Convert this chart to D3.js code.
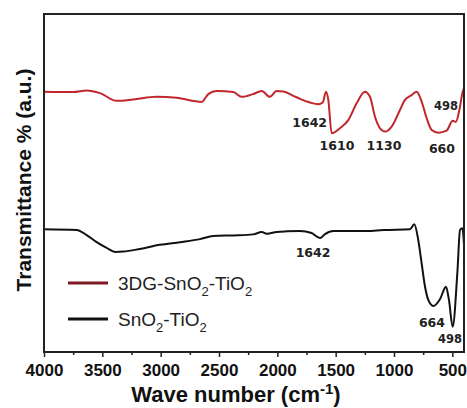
<!DOCTYPE html>
<html>
<head>
<meta charset="utf-8">
<script src="https://cdn.jsdelivr.net/npm/d3@7"></script>
<style>
  body { margin: 0; background: #fff; }
  svg { font-family: "Liberation Sans", Arial, sans-serif; }
</style>
</head>
<body>
<div id="chart"></div>
<script>
// FTIR spectra, wave number (cm-1) vs transmittance (a.u.)
var wnRed = [4000, 3749, 3634, 3520, 3377, 3236, 3034, 2863, 2649, 2592, 2520, 2377, 2306, 2208, 2134, 2063, 2006, 1949, 1863, 1806, 1720, 1649, 1611, 1583, 1563, 1534, 1463, 1392, 1320, 1249, 1206, 1163, 1120, 1077, 1020, 949, 906, 849, 806, 763, 720, 677, 620, 549, 497, 469, 440, 411, 400];
var tRed = [77.0, 76.9, 77.4, 76.6, 74.3, 74.7, 75.5, 75.2, 74.0, 76.3, 77.2, 76.9, 75.5, 76.3, 77.2, 75.5, 77.2, 77.1, 75.8, 74.9, 73.8, 73.3, 73.8, 77.0, 74.6, 64.7, 66.2, 68.6, 73.6, 77.0, 75.5, 69.6, 66.2, 65.2, 66.7, 71.6, 74.6, 76.0, 77.0, 74.1, 69.2, 65.7, 64.9, 65.5, 68.4, 68.1, 71.6, 77.0, 78.1];

var wnBlack = [4000, 3720, 3634, 3549, 3463, 3391, 3320, 3177, 3006, 2834, 2663, 2549, 2377, 2206, 2134, 2091, 2006, 1920, 1806, 1706, 1634, 1591, 1520, 1377, 1234, 1091, 863, 826, 792, 763, 734, 706, 663, 606, 554, 529, 497, 457, 434, 414, 400];
var tBlack = [36.3, 36.1, 34.6, 32.5, 30.8, 29.6, 29.7, 30.5, 31.7, 32.5, 33.4, 34.3, 34.5, 34.8, 35.5, 35.0, 35.5, 35.7, 35.8, 35.2, 33.7, 34.9, 35.8, 35.8, 35.8, 36.1, 36.3, 37.8, 33.1, 26.2, 19.3, 15.4, 13.6, 15.6, 19.3, 15.4, 7.5, 23.4, 36.1, 36.6, 31.7];

var xTicks = [4000, 3500, 3000, 2500, 2000, 1500, 1000, 500];
var xMinorTicks = [3750, 3250, 2750, 2250, 1750, 1250, 750];

// peak annotations: text, wave number, transmittance
var peaksRed = [["1642", 1574, 66.6, "end"], ["1610", 1489, 59.8, "middle"], ["1130", 1086, 59.8, "middle"], ["660", 589, 59.0, "middle"], ["498", 554, 71.6, "middle"]];
var peaksBlack = [["1642", 1694, 28.1, "middle"], ["664", 563, 7.5, "end"], ["498", 520, 2.7, "middle"]];

var svgWidth = 467;
var svgHeight = 408;
var margin = { top: 14, right: 3, bottom: 56, left: 44 };
var width = svgWidth - margin.left - margin.right;
var height = svgHeight - margin.top - margin.bottom;

var svg = d3.select("#chart").append("svg")
  .attr("width", svgWidth)
  .attr("height", svgHeight);

var chartGroup = svg.append("g")
  .attr("transform", `translate(${margin.left}, ${margin.top})`);

var xScale = d3.scaleLinear().domain([4000, 400]).range([0, width]);
var yScale = d3.scaleLinear().domain([0, 100]).range([height, 0]);

// minor ticks
chartGroup.append("g")
  .attr("transform", `translate(0, ${height})`)
  .call(d3.axisBottom(xScale).tickValues(xMinorTicks).tickSize(3).tickFormat(""))
  .call(g => g.select(".domain").remove())
  .selectAll("line").attr("stroke", "#222").attr("stroke-width", 1.5);

// major ticks
var xAxis = chartGroup.append("g")
  .attr("transform", `translate(0, ${height})`)
  .call(d3.axisBottom(xScale).tickValues(xTicks).tickSize(5).tickPadding(7).tickFormat(d3.format("d")));
xAxis.select(".domain").remove();
xAxis.selectAll("line").attr("stroke", "#222").attr("stroke-width", 1.5);
xAxis.selectAll("text")
  .attr("fill", "#111")
  .style("font-size", "17px")
  .style("font-weight", "bold");

// curves
var line = d3.line()
  .x(d => xScale(d[0]))
  .y(d => yScale(d[1]))
  .curve(d3.curveMonotoneX);

chartGroup.append("path")
  .datum(wnRed.map((w, i) => [w, tRed[i]]))
  .attr("fill", "none")
  .attr("stroke", "#c0262c")
  .attr("stroke-width", 2)
  .attr("d", line);

chartGroup.append("path")
  .datum(wnBlack.map((w, i) => [w, tBlack[i]]))
  .attr("fill", "none")
  .attr("stroke", "#111")
  .attr("stroke-width", 2)
  .attr("d", line);

// frame
chartGroup.append("rect")
  .attr("width", width)
  .attr("height", height)
  .attr("fill", "none")
  .attr("stroke", "#222")
  .attr("stroke-width", 2);

// peak labels
function addPeaks(list) {
  chartGroup.selectAll(null)
    .data(list)
    .enter()
    .append("text")
    .attr("x", d => xScale(d[1]))
    .attr("y", d => yScale(d[2]))
    .attr("text-anchor", d => d[3])
    .style("font-family", "'DejaVu Sans', sans-serif")
    .style("font-weight", "bold")
    .style("font-size", d => (d[0] === "498" ? 11.5 : 12.5) + "px")
    .attr("fill", "#222")
    .text(d => d[0]);
}
addPeaks(peaksRed);
addPeaks(peaksBlack);

// legend
var legend = [["3DG-SnO", "2", "-TiO", "2", "#7d1a22", 283], ["SnO", "2", "-TiO", "2", "#111", 319]];
legend.forEach(function(l) {
  svg.append("line")
    .attr("x1", 68).attr("x2", 108)
    .attr("y1", l[5]).attr("y2", l[5])
    .attr("stroke", l[4])
    .attr("stroke-width", 3);
  var t = svg.append("text")
    .attr("x", 118)
    .attr("y", l[5] + 7)
    .style("font-size", "19px")
    .attr("fill", "#222");
  t.append("tspan").text(l[0]);
  t.append("tspan").attr("dy", 6).style("font-size", "13px").text(l[1]);
  t.append("tspan").attr("dy", -6).text(l[2]);
  t.append("tspan").attr("dy", 6).style("font-size", "13px").text(l[3]);
});

// axis titles
var xTitle = svg.append("text")
  .attr("x", 236)
  .attr("y", 402)
  .attr("text-anchor", "middle")
  .style("font-size", "22px")
  .style("font-weight", "bold")
  .attr("fill", "#111");
xTitle.append("tspan").text("Wave number (cm");
xTitle.append("tspan").attr("dy", -8).style("font-size", "15px").text("-1");
xTitle.append("tspan").attr("dy", 8).text(")");

svg.append("text")
  .attr("transform", "translate(31, 180) rotate(-90)")
  .attr("text-anchor", "middle")
  .style("font-size", "21px")
  .style("font-weight", "bold")
  .attr("fill", "#111")
  .text("Transmittance % (a.u.)");
</script>
</body>
</html>
